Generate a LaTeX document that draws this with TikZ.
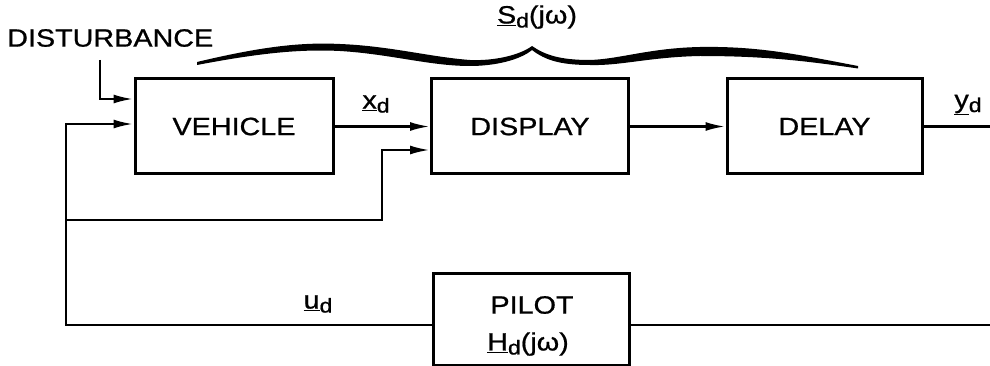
\documentclass[tikz,border=0pt]{standalone}
\usepackage{fontspec}
\setmainfont{Liberation Sans}[FakeStretch=1.15,FakeBold=0.8]
\usetikzlibrary{arrows.meta}
\newcommand\ulsub[3]{{\fontsize{#1}{#1}\selectfont\underline{#2}}\raisebox{-4pt}{\fontsize{20}{20}\selectfont #3}}
\begin{document}
\begin{tikzpicture}[x=1pt,y=-1pt,
  blockbox/.style={draw,line width=3pt,rectangle,inner sep=0pt,font=\fontsize{25}{28}\selectfont,align=center},
  conn/.style={line width=2.5pt},
  arr/.style={conn,-{Latex[length=20pt,width=9pt]}},
  lbl/.style={inner sep=0pt,font=\fontsize{25}{28}\selectfont}]
\useasboundingbox (0,0) rectangle (990,366);
% blocks
\node[blockbox,minimum width=198pt,minimum height=95pt] (vehicle) at (234,126.5) {VEHICLE};
\node[blockbox,minimum width=197pt,minimum height=95pt] (display) at (530,126.5) {DISPLAY};
\node[blockbox,minimum width=195pt,minimum height=95pt] (delay) at (824.5,126.5) {DELAY};
\node[blockbox,minimum width=196pt,minimum height=92pt] (pilot) at (531,319) {};
\node[lbl] (pilottxt) at (532,305) {PILOT};
\node[lbl] (pilotH) at (528,344) {\ulsub{25}{H}{d}{\fontsize{25}{25}\selectfont(jω)}};
% labels
\node[lbl,anchor=west] (dist) at (7,38) {DISTURBANCE};
\node[lbl] (sd) at (537,17) {\ulsub{25}{S}{d}{\fontsize{25}{25}\selectfont(jω)}};
\node[lbl] (xd) at (376,104) {\ulsub{25}{x}{d}};
\node[lbl] (yd) at (968,105) {\ulsub{25}{y}{d}};
\node[lbl] (ud) at (318,304) {\ulsub{25}{u}{d}};
% coordinates
\coordinate (dstart) at (100,60);
\coordinate (fbL) at (66,325);
\coordinate (br) at (66,220);
\coordinate (bend) at (382,150);
\coordinate (yout) at (990,126.5);
\coordinate (pout) at (990,325);
% connectors
\draw[arr] (dstart) |- (vehicle.west |- 0,99);
\draw[arr] (pilot.west |- fbL) -- (fbL) |- (vehicle.west |- 0,124);
\draw[arr] (br) -| (bend) -- (display.west |- bend);
\draw[arr] (vehicle.east) -- (display.west);
\draw[arr] (display.east) -- (delay.west);
\draw[conn] (delay.east) -- (yout);
\draw[conn] (pilot.east |- pout) -- (pout);
% brace
\fill (197,62) .. controls (260,47) and (300,42) .. (340,44)
  .. controls (390,46) and (430,57) .. (470,60)
  .. controls (495,61) and (520,55) .. (532,46)
  .. controls (545,55) and (560,60) .. (590,60)
  .. controls (620,59) and (650,48) .. (700,47)
  .. controls (760,46) and (800,55) .. (858,66)
  -- (858,68.5)
  .. controls (800,60) and (760,56) .. (700,56)
  .. controls (650,57) and (620,66) .. (590,65)
  .. controls (560,65) and (545,60) .. (532,50)
  .. controls (520,60) and (495,66) .. (470,66)
  .. controls (430,66) and (390,54) .. (340,51)
  .. controls (300,49) and (260,53) .. (197,65) -- cycle;
\end{tikzpicture}
\end{document}
